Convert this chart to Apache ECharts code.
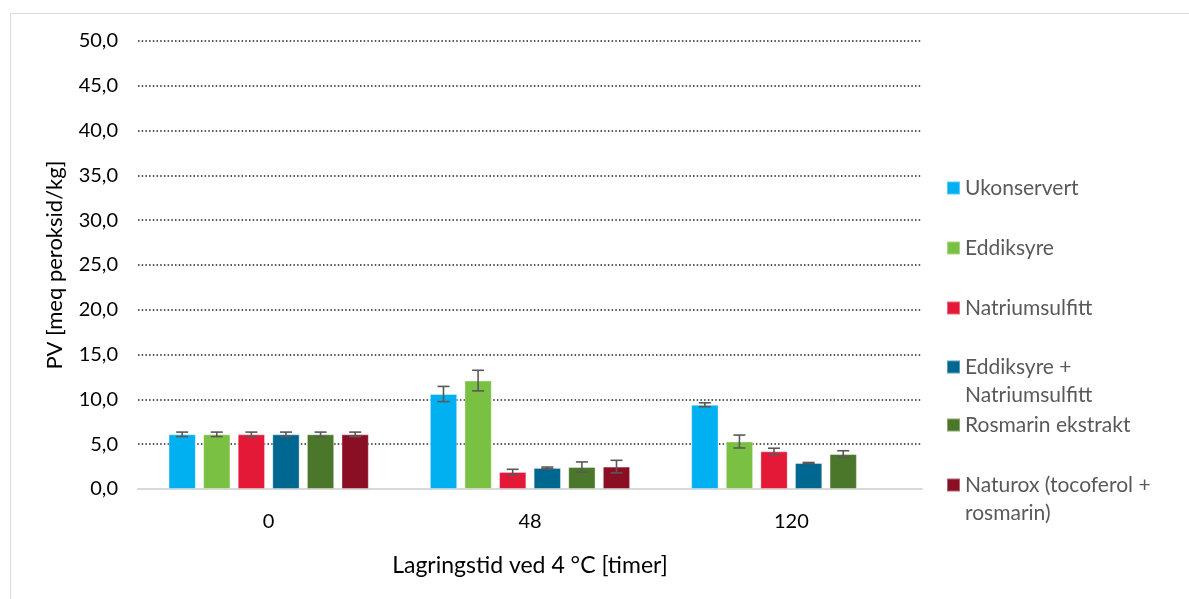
<!DOCTYPE html>
<html>
<head>
<meta charset="utf-8">
<script src="https://cdn.jsdelivr.net/npm/echarts@6/dist/echarts.min.js"></script>
<style>
    html, body { margin: 0; padding: 0; background: #fff; }
    #chart { width: 1189px; height: 599px; }
</style>
</head>
<body>
<div id="chart"></div>
<script>
// storage time (hours)
const categories = ['0', '48', '120'];
const seriesNames = [
    'Ukonservert',
    'Eddiksyre',
    'Natriumsulfitt',
    'Eddiksyre +\nNatriumsulfitt',
    'Rosmarin ekstrakt',
    'Naturox (tocoferol +\nrosmarin)'
];
const colors = ['#00b0f0', '#7ac143', '#e31937', '#006890', '#4a7729', '#8b0f24'];

// PV values per treatment, per storage time
const ukonservert = [6.1, 10.6, 9.4];
const eddiksyre = [6.1, 12.1, 5.3];
const natriumsulfitt = [6.1, 1.9, 4.2];
const eddikNatrium = [6.1, 2.35, 2.9];
const rosmarin = [6.1, 2.45, 3.9];
const naturox = [6.1, 2.5, null];

// standard deviation (error bars)
const ukonservertSd = [0.25, 0.85, 0.22];
const eddiksyreSd = [0.25, 1.15, 0.72];
const natriumsulfittSd = [0.25, 0.3, 0.35];
const eddikNatriumSd = [0.25, 0.1, 0.06];
const rosmarinSd = [0.25, 0.57, 0.37];
const naturoxSd = [0.25, 0.7, null];

const values = [ukonservert, eddiksyre, natriumsulfitt, eddikNatrium, rosmarin, naturox];
const errors = [ukonservertSd, eddiksyreSd, natriumsulfittSd, eddikNatriumSd, rosmarinSd, naturoxSd];

const yTicks = [0, 5, 10, 15, 20, 25, 30, 35, 40, 45, 50];

const BAR_W = 27.3;
const BAR_GAP = 7.3;
const FONT = 'Lato';
const LEGEND_LH = 28;

const chart = echarts.init(document.getElementById('chart'));

const series = [];
values.forEach((vals, i) => {
    series.push({
        name: seriesNames[i],
        type: 'bar',
        barWidth: BAR_W,
        barGap: (BAR_GAP / BAR_W * 100).toFixed(1) + '%',
        itemStyle: {
            color: colors[i],
            borderColor: 'rgba(255,255,255,0.35)',
            borderWidth: 1
        },
        data: vals
    });
});
// error bars
values.forEach((vals, i) => {
    const data = [];
    vals.forEach((v, c) => {
        if (v != null && errors[i][c] != null) {
            data.push([c, v - errors[i][c], v + errors[i][c]]);
        }
    });
    series.push({
        type: 'custom',
        name: 'err' + i,
        silent: true,
        z: 5,
        renderItem(params, api) {
            const c = api.value(0);
            const offset = (i - (values.length - 1) / 2) * (BAR_W + BAR_GAP);
            const lo = api.coord([c, api.value(1)]);
            const hi = api.coord([c, api.value(2)]);
            const x = lo[0] + offset;
            const cap = 6;
            const style = { stroke: '#595959', lineWidth: 1.6, fill: null };
            return {
                type: 'group',
                children: [
                    { type: 'line', shape: { x1: x, y1: lo[1], x2: x, y2: hi[1] }, style },
                    { type: 'line', shape: { x1: x - cap, y1: lo[1], x2: x + cap, y2: lo[1] }, style },
                    { type: 'line', shape: { x1: x - cap, y1: hi[1], x2: x + cap, y2: hi[1] }, style }
                ]
            };
        },
        encode: { x: 0, y: [1, 2] },
        data: data
    });
});

// one legend per item so wrapped names keep Excel's spacing;
// centres of the first text line in the reference
const legendCenters = [188, 248, 308, 367, 425, 485];
const legends = seriesNames.map((name, i) => {
    const wrapped = name.indexOf('\n') >= 0;
    // leading empty line puts the marker level with the first line
    const top = legendCenters[i] - 5 - (wrapped ? LEGEND_LH * 1.5 : LEGEND_LH / 2);
    return {
        left: 941,
        top: top,
        orient: 'vertical',
        icon: 'rect',
        itemWidth: 13,
        itemHeight: 13,
        selectedMode: false,
        data: [name],
        formatter: n => (n.indexOf('\n') >= 0 ? '\n' + n : n),
        textStyle: {
            fontFamily: FONT,
            fontSize: 21,
            color: '#595959',
            lineHeight: LEGEND_LH
        }
    };
});

const option = {
    animation: false,
    color: colors,
    graphic: [{
        type: 'rect',
        left: 8,
        top: 11,
        shape: { width: 1300, height: 700 },
        style: { fill: null, stroke: '#d9d9d9', lineWidth: 1 },
        silent: true
    }],
    legend: legends,
    grid: {
        left: 138,
        right: 267,
        top: 41,
        bottom: 110
    },
    xAxis: {
        type: 'category',
        data: categories,
        name: 'Lagringstid ved 4 °C [timer]',
        nameLocation: 'middle',
        nameGap: 65,
        nameTextStyle: { fontFamily: FONT, fontSize: 23, color: '#000' },
        axisTick: { show: false },
        axisLine: { lineStyle: { color: '#d9d9d9', width: 2 } },
        axisLabel: { fontFamily: FONT, fontSize: 20, color: '#000', margin: 23 }
    },
    yAxis: {
        type: 'value',
        min: yTicks[0],
        max: yTicks[yTicks.length - 1],
        interval: 5,
        name: 'PV [meq peroksid/kg]',
        nameLocation: 'middle',
        nameGap: 72,
        nameTextStyle: { fontFamily: FONT, fontSize: 22, color: '#000' },
        axisLine: { show: false },
        axisTick: { show: false },
        axisLabel: {
            fontFamily: FONT,
            fontSize: 20,
            color: '#000',
            margin: 20,
            formatter: v => v.toFixed(1).replace('.', ',')
        },
        splitLine: {
            lineStyle: { color: '#222', type: [1.5, 2.2], width: 1.5 }
        }
    },
    series: series
};

chart.setOption(option);
</script>
</body>
</html>
